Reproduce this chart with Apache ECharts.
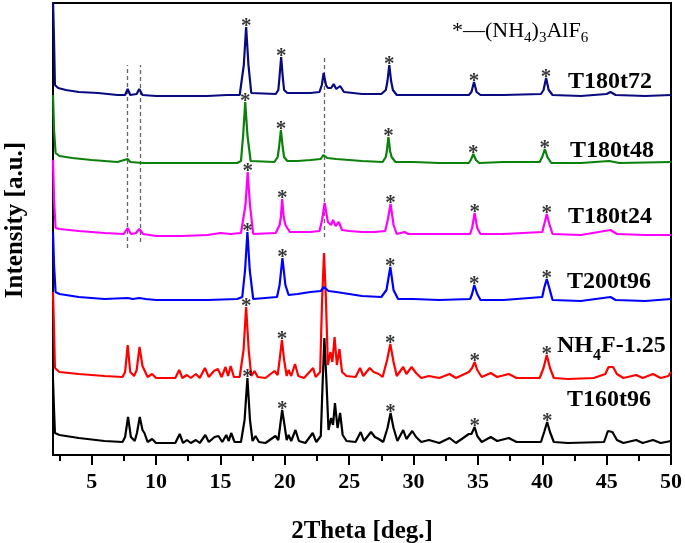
<!DOCTYPE html>
<html><head><meta charset="utf-8">
<script src="https://cdn.jsdelivr.net/npm/echarts@6/dist/echarts.min.js"></script>
<style>html,body{margin:0;padding:0;background:#fff}#c{width:685px;height:543px}</style>
</head><body><div id="c"></div>
<script>
// ---- data ----
const sampleNames = ['T180t72', 'T180t48', 'T180t24', 'T200t96', 'NH4F-1.25', 'T160t96'];
const baselineOffsets = [360, 292, 220, 155, 77, 12];
const xMajorTicks = [5, 10, 15, 20, 25, 30, 35, 40, 45, 50];
const xMinorTicks = [2.5, 7.5, 12.5, 17.5, 22.5, 27.5, 32.5, 37.5, 42.5, 47.5];

const T180t72 = [[2.0,95],[2.08,55],[2.15,10],[2.4,7],[3.0,5],[4.0,3],[5.5,2],[7.0,0],[7.6,0],[7.8,6],[8.0,0],[8.5,1],[8.7,6],[8.95,0],[10,-1],[12,-1],[14,-1],[15.5,0],[16.5,0],[16.6,2],[16.82,30],[17.0,68],[17.18,30],[17.4,2],[19.3,1],[19.5,5],[19.58,16],[19.72,38],[19.86,16],[19.95,5],[20.2,2],[21,2],[22,2],[22.7,3],[22.88,10],[23.02,22],[23.2,10],[23.35,7],[23.6,7],[23.8,11],[24.0,6],[24.3,9],[24.6,3],[26,1],[27.5,1],[27.85,5],[27.98,14],[28.12,30],[28.26,14],[28.4,5],[28.7,0],[30,0],[32,0],[34.3,0],[34.5,3],[34.7,13],[34.9,3],[35.2,0],[37,0],[39.9,1],[40.1,5],[40.3,17],[40.5,5],[40.8,0],[43,-1],[45,1],[45.3,3],[45.7,0],[48,-1],[50,0]];
const T180t48 = [[2.0,68],[2.08,33],[2.2,10],[2.5,7],[3.5,5],[5,3],[7,1],[7.8,4],[8.0,1],[9,0],[12,0],[16.3,0],[16.6,2],[16.77,28],[16.93,61],[17.1,28],[17.35,2],[19.2,1],[19.45,6],[19.56,16],[19.7,33],[19.84,16],[19.95,6],[20.2,2],[21,2],[22,3],[22.8,4],[23.0,8],[23.3,5],[24,4],[25,3],[26,2],[27.6,1],[27.85,6],[27.93,12],[28.05,26],[28.18,12],[28.3,6],[28.6,1],[30,1],[32,0],[34.3,0],[34.45,3],[34.65,9],[34.85,3],[35.1,0],[37,1],[39.8,1],[40.0,6],[40.2,14],[40.4,6],[40.7,0],[43,0],[45.2,2],[46,0],[50,1]];
const T180t24 = [[2.0,75],[2.08,35],[2.2,7],[2.5,6],[4,4],[6,2],[7.5,1],[7.8,7],[8.05,1],[8.45,2],[8.7,6],[9.0,1],[10,-1],[12,-1],[14,0],[15,2],[15.8,1],[16.6,2],[16.72,4],[16.95,30],[17.12,63],[17.3,30],[17.55,1],[19.3,2],[19.6,10],[19.7,18],[19.8,36],[19.92,18],[20.05,10],[20.4,3],[21,3],[22,3],[22.7,4],[22.9,15],[23.1,32],[23.35,13],[23.6,10],[23.75,15],[23.95,9],[24.2,13],[24.45,5],[25,4],[26,3],[27,3],[27.8,4],[28.0,15],[28.22,31],[28.45,10],[28.7,1],[29.3,3],[29.6,1],[30,1],[32,1],[34.4,1],[34.55,7],[34.75,22],[34.95,7],[35.2,1],[37,1],[40.0,3],[40.2,13],[40.35,21],[40.55,11],[40.8,1],[43,0],[45.3,5],[45.8,1],[48,0],[50,0]];
const T200t96 = [[2.0,68],[2.08,35],[2.2,8],[2.5,6],[4,3],[6,1],[7.8,2],[8.2,1],[8.7,2],[9.2,1],[10,0],[14,0],[16.3,1],[16.7,3],[16.92,30],[17.1,68],[17.28,30],[17.55,1],[19.4,3],[19.6,15],[19.82,42],[20.05,15],[20.3,5],[21,6],[22,8],[22.8,9],[23.05,13],[23.4,9],[24,8],[25,6],[26,4],[27.5,3],[27.9,10],[28.2,33],[28.45,10],[28.8,1],[30,1],[32,0],[34.4,1],[34.55,6],[34.72,15],[34.95,6],[35.2,0],[37,0],[40.0,3],[40.15,12],[40.35,21],[40.55,12],[40.8,0],[43,-1],[45.3,3],[45.7,0],[48,-1],[50,1]];
const NH4F_125 = [[2.0,86],[2.08,48],[2.15,10],[2.5,6],[4,4],[6,2],[7.4,1],[7.6,6],[7.8,33],[8.0,6],[8.3,2],[8.5,8],[8.72,31],[8.95,12],[9.1,10],[9.35,1],[9.7,4],[10,0],[11.5,0],[11.8,8],[12.05,0],[12.4,3],[12.7,0],[13.1,4],[13.4,0],[13.8,10],[14.1,1],[14.5,7],[14.8,9],[15.1,1],[15.4,11],[15.6,2],[15.8,12],[16.05,1],[16.5,1],[16.8,28],[17.0,71],[17.2,28],[17.4,2],[17.65,7],[17.9,1],[18.5,0],[19.2,7],[19.45,3],[19.6,18],[19.78,38],[19.95,18],[20.15,2],[20.3,8],[20.5,2],[20.8,14],[21.05,2],[21.5,0],[22.2,10],[22.4,1],[22.75,6],[22.9,78],[23.05,125],[23.2,78],[23.35,13],[23.55,26],[23.7,16],[23.87,41],[24.05,13],[24.25,29],[24.45,6],[24.8,2],[25.5,1],[25.85,10],[26.1,2],[26.6,10],[26.9,6],[27.3,4],[27.6,1],[27.95,18],[28.2,34],[28.45,16],[28.7,2],[29.2,11],[29.45,4],[29.85,11],[30.2,5],[30.6,0],[31.2,2],[32,0],[32.8,4],[33.3,0],[34.3,6],[34.55,10],[34.75,16],[34.95,8],[35.3,1],[36.0,5],[36.5,1],[37.4,4],[38,0],[39.8,0],[40.1,10],[40.35,23],[40.6,10],[40.9,0],[42,-1],[44,0],[44.9,4],[45.15,11],[45.5,11],[45.8,4],[46.3,0],[47.3,3],[47.8,0],[48.6,4],[49.2,0],[49.8,2],[50,6]];
const T160t96 = [[2.0,63],[2.08,33],[2.15,10],[2.5,8],[4,5],[6,2],[7.4,1],[7.6,6],[7.83,26],[8.05,6],[8.35,2],[8.52,10],[8.74,26],[8.95,13],[9.1,10],[9.35,1],[9.7,4],[10,0],[11.5,0],[11.84,9],[12.1,0],[12.4,3],[12.7,0],[13.1,3],[13.4,0],[13.83,8],[14.1,1],[14.55,6],[14.85,7],[15.15,1],[15.46,8],[15.65,2],[15.84,10],[16.1,1],[16.6,1],[16.88,23],[17.1,65],[17.3,23],[17.5,2],[17.73,7],[18.0,1],[18.5,0],[19.28,7],[19.5,3],[19.65,18],[19.8,33],[19.98,18],[20.15,3],[20.3,8],[20.5,2],[20.83,13],[21.1,2],[21.6,0],[22.17,10],[22.45,1],[22.8,7],[22.95,63],[23.08,105],[23.25,58],[23.4,13],[23.6,25],[23.75,18],[23.9,40],[24.1,15],[24.3,30],[24.5,8],[24.8,2],[25.5,1],[25.9,11],[26.15,2],[26.7,11],[27.0,6],[27.3,4],[27.65,1],[27.98,15],[28.22,30],[28.45,15],[28.75,2],[29.2,13],[29.45,4],[29.9,12],[30.2,6],[30.6,1],[31.2,3],[32,0],[32.8,5],[33.3,0],[34.3,9],[34.5,9],[34.75,16],[34.95,7],[35.3,1],[36.0,6],[36.5,2],[37.4,5],[38,1],[39.9,1],[40.15,11],[40.38,21],[40.6,11],[40.9,1],[42,0],[44.8,1],[45.1,12],[45.45,11],[45.8,3],[46.3,0],[47.3,3],[47.8,0],[48.6,3],[49.2,0],[50,2]];

// 2θ of the (NH4)3AlF6 reflections marked with * on each pattern
const starsT180t72 = [17.0, 19.72, 28.12, 34.7, 40.3];
const starsT180t48 = [16.93, 19.7, 28.05, 34.65, 40.2];
const starsT180t24 = [17.12, 19.8, 28.22, 34.75, 40.35];
const starsT200t96 = [17.1, 19.82, 28.2, 34.72, 40.35];
const starsNH4F_125 = [17.0, 19.78, 28.2, 34.75, 40.35];
const starsT160t96 = [17.1, 19.8, 28.22, 34.75, 40.38];

// dashed reference lines: [2θ, lower intensity, upper intensity]
const refLines = [[7.75, 207, 390], [8.74, 213, 390], [23.07, 218, 397]];

// ---- chart ----
const traces = [T180t72, T180t48, T180t24, T200t96, NH4F_125, T160t96];
const stars = [starsT180t72, starsT180t48, starsT180t24, starsT200t96, starsNH4F_125, starsT160t96];
const colors = ['#0a0a80', '#0b800b', '#ff00ff', '#0000ff', '#ff0000', '#000000'];
const FONT = "'Times New Roman','Liberation Serif',serif";

const series = traces.map((tr, i) => ({
  type: 'line', name: sampleNames[i], xAxisIndex: 0, yAxisIndex: 0,
  data: tr.map(p => [p[0], p[1] + baselineOffsets[i]]),
  showSymbol: false, symbol: 'none', clip: true, z: 3 + (6 - i),
  lineStyle: { color: colors[i], width: 2.2 },
  itemStyle: { color: colors[i] },
  silent: true
}));

series[0].markLine = {
  silent: true, symbol: ['none', 'none'], label: { show: false },
  lineStyle: { color: '#666', type: [4, 3], width: 1.3 },
  data: refLines.map(r => [{ coord: [r[0], r[1]] }, { coord: [r[0], r[2]] }])
};

const starData = [];
stars.forEach((list, i) => {
  list.forEach(x => {
    let best = -Infinity;
    traces[i].forEach(p => { if (Math.abs(p[0] - x) <= 0.15 && p[1] > best) best = p[1]; });
    starData.push([x, best + baselineOffsets[i]]);
  });
});
series.push({
  type: 'scatter', data: starData, symbolSize: 0.1, z: 20, silent: true,
  itemStyle: { color: 'rgba(0,0,0,0)' },
  label: { show: true, formatter: '*', position: 'top', distance: 0, offset: [0, 10],
    fontFamily: FONT, fontSize: 21, fontWeight: 'bold', color: '#000' }
});

const labelY = [82, 151, 217, 282, 346, 400];
const labelX = [568, 570, 568, 567, 557, 567];
const boldRich = {
  b: { fontFamily: FONT, fontSize: 24, fontWeight: 'bold', lineHeight: 36, fill: '#000', color: '#000' },
  s: { fontFamily: FONT, fontSize: 16, fontWeight: 'bold', verticalAlign: 'bottom', fill: '#000', color: '#000' }
};
const graphic = sampleNames.map((n, i) => {
  const txt = n === 'NH4F-1.25' ? '{b|NH}{s|4}{b|F-1.25}' : '{b|' + n + '}';
  return { type: 'text', x: labelX[i], y: labelY[i], silent: true, z: 50,
    style: { text: txt, rich: boldRich, textAlign: 'left', align: 'left', textVerticalAlign: 'middle', verticalAlign: 'middle' } };
});
graphic.push({ type: 'text', x: 452, y: 31, silent: true, z: 50,
  style: { text: '{m|*—(NH}{s|4}{m|)}{s|3}{m|AlF}{s|6}',
    rich: { m: { fontFamily: FONT, fontSize: 22, lineHeight: 30, fill: '#000', color: '#000' },
            s: { fontFamily: FONT, fontSize: 15, verticalAlign: 'bottom', fill: '#000', color: '#000' } },
    textAlign: 'left', align: 'left', textVerticalAlign: 'middle', verticalAlign: 'middle' } });
graphic.push({ type: 'text', x: 362, y: 532, silent: true,
  style: { text: '2Theta [deg.]', font: "bold 25px " + FONT, fill: '#000',
    textAlign: 'center', align: 'center', textVerticalAlign: 'middle', verticalAlign: 'middle' } });
graphic.push({ type: 'text', x: 16, y: 220, rotation: Math.PI / 2, silent: true,
  style: { text: 'Intensity [a.u.]', font: "bold 25px " + FONT, fill: '#000',
    textAlign: 'center', align: 'center', textVerticalAlign: 'middle', verticalAlign: 'middle' } });

const chart = echarts.init(document.getElementById('c'), null, { renderer: 'canvas' });
chart.setOption({
  animation: false,
  backgroundColor: '#fff',
  grid: { left: 53, right: 13, top: 3, bottom: 88, show: true, borderColor: '#000', borderWidth: 2, backgroundColor: 'transparent' },
  xAxis: [{
    type: 'value', min: 2, max: 50, position: 'bottom',
    axisLine: { show: true, lineStyle: { color: '#000', width: 2 } },
    axisTick: { show: true, customValues: xMajorTicks, length: 10, inside: false, lineStyle: { color: '#000', width: 2 } },
    axisLabel: { show: true, customValues: xMajorTicks, margin: 16, color: '#000', fontFamily: FONT, fontSize: 22, fontWeight: 'bold' },
    splitLine: { show: false }
  }, {
    type: 'value', min: 2, max: 50, position: 'bottom',
    axisLine: { show: false },
    axisTick: { show: true, customValues: xMinorTicks, length: 6, inside: false, lineStyle: { color: '#000', width: 2 } },
    axisLabel: { show: false },
    splitLine: { show: false }
  }],
  yAxis: {
    type: 'value', min: 0, max: 452,
    axisLine: { show: true, lineStyle: { color: '#000', width: 2 } },
    axisTick: { show: false }, axisLabel: { show: false }, splitLine: { show: false }
  },
  graphic: graphic,
  series: series
});
</script>
</body></html>
